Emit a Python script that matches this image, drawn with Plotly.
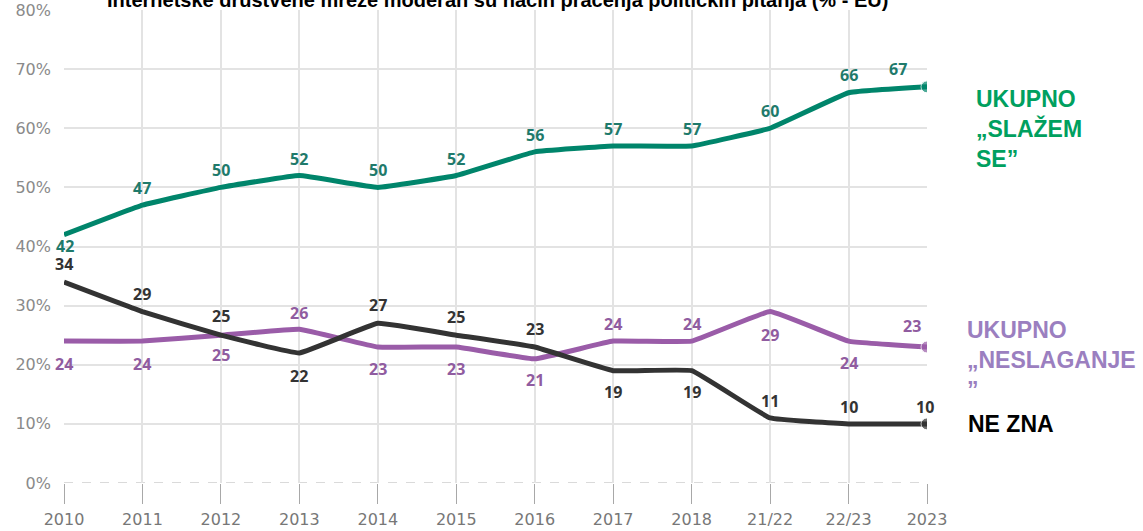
import plotly.graph_objects as go

# Survey waves and shares (%)
periods = ["2010", "2011", "2012", "2013", "2014", "2015", "2016", "2017", "2018", "21/22", "22/23", "2023"]
agree = [42, 47, 50, 52, 50, 52, 56, 57, 57, 60, 66, 67]
disagree = [24, 24, 25, 26, 23, 23, 21, 24, 24, 29, 24, 23]
dont_know = [34, 29, 25, 22, 27, 25, 23, 19, 19, 11, 10, 10]

# pixel offsets of the value labels relative to their points
agree_shift = [-11, 17, 17, 17, 17, 17, 17, 17, 17, 17, 18, 18]
disagree_shift = [-23, -23, -20, 16, -22, -22, -21, 17, 17, -23, -22, 21]
dont_know_shift = [18, 18, 19, -23, 18, 18, 18, -21, -21, 17, 17, 17]
agree_xshift = [1, 0, 0, 0, 0, 0, 0, 0, 0, 0, 0, -29]
disagree_xshift = [0, 0, 0, 0, 0, 0, 0, 0, 0, 0, 0, -15]
dont_know_xshift = [0, 0, 0, 0, 0, 0, 0, 0, 0, 0, 0, -2]

GREEN = "#00856b"
GREEN_TXT = "#1f7a6b"
PURPLE = "#9a5ca8"
PURPLE_TXT = "#905ca0"
DARK = "#333333"

n = len(periods)
idx = list(range(n))
last_only = [0] * (n - 1) + [12]

fig = go.Figure()
series = [
    (agree, GREEN),
    (disagree, PURPLE),
    (dont_know, DARK),
]
for vals, col in series:
    fig.add_trace(go.Scatter(
        x=idx, y=vals, mode="lines+markers",
        line=dict(color=col, width=5, shape="spline", smoothing=0.25),
        marker=dict(size=last_only, color=col),
        hoverinfo="skip", showlegend=False,
    ))

annotations = []
label_font = dict(family="Open Sans", size=16, weight="bold")
for vals, shifts, xshifts, col in [
    (agree, agree_shift, agree_xshift, GREEN_TXT),
    (disagree, disagree_shift, disagree_xshift, PURPLE_TXT),
    (dont_know, dont_know_shift, dont_know_xshift, DARK),
]:
    for i, v, s, xs in zip(idx, vals, shifts, xshifts):
        annotations.append(dict(
            x=i, y=v, xref="x", yref="y", text=str(v), showarrow=False,
            yshift=s, xshift=xs, font=dict(color=col, **label_font),
        ))

# series names at the right of the plot
side_font = dict(family="Liberation Sans, Arial", size=23, weight="bold")
annotations += [
    dict(x=1.0545, y=67.5, xref="paper", yref="y", xanchor="left", yanchor="top",
         align="left", showarrow=False,
         text="UKUPNO<br>„SLAŽEM<br>SE”", font=dict(color="#00a05f", **side_font)),
    dict(x=1.044, y=28.4, xref="paper", yref="y", xanchor="left", yanchor="top",
         align="left", showarrow=False,
         text="UKUPNO<br>„NESLAGANJE<br>”", font=dict(color="#9b7fc0", **side_font)),
    dict(x=1.045, y=10, xref="paper", yref="y", xanchor="left", yanchor="middle",
         align="left", showarrow=False,
         text="NE ZNA", font=dict(color="#000000", **side_font)),
    dict(x=0.502, y=1, xref="paper", yref="paper", xanchor="center", yanchor="bottom",
         showarrow=False, yshift=-3,
         text="Internetske društvene mreže moderan su način praćenja političkih pitanja (% - EU)",
         font=dict(family="Liberation Sans, Arial", size=20, color="#000000", weight="bold")),
]

fig.update_layout(
    width=1143, height=531,
    margin=dict(l=64, r=216, t=10, b=48),
    paper_bgcolor="white", plot_bgcolor="white",
    annotations=annotations,
    shapes=[dict(type="line", xref="paper", yref="y", x0=0, x1=1, y0=0, y1=0,
                 line=dict(color="#b5b5b5", width=1, dash="dash"), layer="below")],
    xaxis=dict(
        range=[0, n - 1], tickvals=idx, ticktext=periods, automargin=False,
        showgrid=True, gridcolor="#e3e3e3", gridwidth=1.5,
        ticks="outside", ticklen=20, tickcolor="#a8a8a8", tickwidth=1,
        ticklabelstandoff=2,
        tickfont=dict(family="DejaVu Sans", size=16, color="#777777"),
        showline=False, zeroline=False,
    ),
    yaxis=dict(
        range=[0, 80], dtick=10, ticksuffix="%", automargin=False,
        showgrid=True, gridcolor="#e3e3e3", gridwidth=1.5,
        tickfont=dict(family="DejaVu Sans", size=16, color="#8a8a8a"),
        ticklabelstandoff=12,
        zeroline=False, showline=False,
    ),
)

fig.write_html("out.html")
